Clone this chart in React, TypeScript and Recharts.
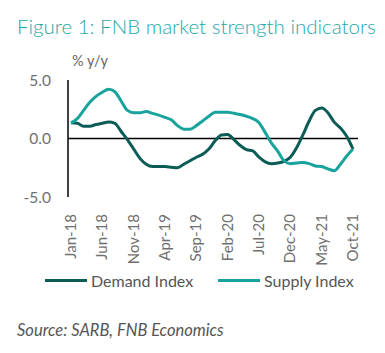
import { LineChart, Line, XAxis, YAxis, ReferenceLine } from 'recharts';

const months = [
  'Jan-18', 'Feb-18', 'Mar-18', 'Apr-18', 'May-18', 'Jun-18', 'Jul-18', 'Aug-18', 'Sep-18', 'Oct-18', 'Nov-18', 'Dec-18',
  'Jan-19', 'Feb-19', 'Mar-19', 'Apr-19', 'May-19', 'Jun-19', 'Jul-19', 'Aug-19', 'Sep-19', 'Oct-19', 'Nov-19', 'Dec-19',
  'Jan-20', 'Feb-20', 'Mar-20', 'Apr-20', 'May-20', 'Jun-20', 'Jul-20', 'Aug-20', 'Sep-20', 'Oct-20', 'Nov-20', 'Dec-20',
  'Jan-21', 'Feb-21', 'Mar-21', 'Apr-21', 'May-21', 'Jun-21', 'Jul-21', 'Aug-21', 'Sep-21', 'Oct-21',
];

const demandIndex = [
  1.34, 1.3, 1.05, 1.05, 1.2, 1.3, 1.4, 1.3, 0.6, -0.1, -0.9, -1.7,
  -2.2, -2.4, -2.4, -2.4, -2.45, -2.5, -2.2, -1.9, -1.6, -1.35, -0.9, -0.2,
  0.3, 0.35, -0.1, -0.6, -0.95, -1.05, -1.6, -2.0, -2.15, -2.1, -1.95, -1.6,
  -0.8, 0.3, 1.5, 2.4, 2.6, 2.2, 1.4, 0.9, 0.2, -0.9,
];

const supplyIndex = [
  1.34, 1.7, 2.4, 3.1, 3.6, 3.95, 4.2, 4.0, 3.2, 2.4, 2.2, 2.2,
  2.3, 2.15, 2.0, 1.8, 1.6, 1.1, 0.8, 0.8, 1.1, 1.5, 1.9, 2.25,
  2.25, 2.25, 2.15, 2.05, 1.9, 1.7, 1.35, 0.5, -0.4, -1.1, -1.9, -2.15,
  -2.1, -2.05, -2.15, -2.35, -2.4, -2.6, -2.75, -2.2, -1.5, -0.9,
];

const yTicks = [-5, 0, 5];

const DEMAND = '#0c5c56';
const SUPPLY = '#18a39c';
const FONT = 'Lato, "Open Sans", sans-serif';

const data = months.map((m, i) => ({ month: m, demand: demandIndex[i], supply: supplyIndex[i] }));

function XTick({ x, y, payload }: any) {
  return (
    <text
      x={x}
      y={y}
      transform={`rotate(-90 ${x} ${y})`}
      dx={-9}
      dy={5}
      textAnchor="end"
      fill="#707070"
      fontSize={15}
      fontFamily={FONT}
    >
      {payload.value}
    </text>
  );
}

export default function App() {
  return (
    <div style={{ position: 'absolute', left: 0, top: 0, width: 385, height: 353, background: '#fff', fontFamily: FONT }}>
      <div style={{ position: 'absolute', left: 17, top: 14, fontSize: 20.5, fontWeight: 300, color: '#1ea8aa', whiteSpace: 'nowrap' }}>
        Figure 1: FNB market strength indicators
      </div>
      <div style={{ position: 'absolute', left: 72, top: 52, fontSize: 14.5, color: '#666' }}>% y/y</div>

      <LineChart width={385} height={270} data={data} margin={{ top: 80, right: 27, left: 0, bottom: 0 }}>
        <XAxis
          dataKey="month"
          interval={4}
          height={73}
          axisLine={false}
          tickLine={false}
          tick={<XTick />}
          padding={{ left: 3, right: 5 }}
        />
        <YAxis
          domain={[-5, 5]}
          ticks={yTicks}
          width={68}
          tickFormatter={(v) => v.toFixed(1)}
          tick={{ fill: '#707070', fontSize: 15.5, fontFamily: FONT }}
          tickLine={false}
          tickSize={0}
          tickMargin={17}
          axisLine={{ stroke: '#000', strokeWidth: 1.5 }}
        />
        <ReferenceLine y={0} stroke="#000" strokeWidth={1.5} />
        <Line type="monotone" dataKey="demand" stroke={DEMAND} strokeWidth={3} dot={false} isAnimationActive={false} />
        <Line type="monotone" dataKey="supply" stroke={SUPPLY} strokeWidth={3} dot={false} isAnimationActive={false} />
      </LineChart>

      <div style={{ position: 'absolute', top: 271, left: 45, display: 'flex', alignItems: 'center', fontSize: 16, color: '#555', whiteSpace: 'nowrap' }}>
        <span style={{ display: 'inline-block', width: 42, height: 3, background: DEMAND, marginRight: 4 }} />
        <span style={{ width: 127 }}>Demand Index</span>
        <span style={{ display: 'inline-block', width: 42, height: 3, background: SUPPLY, marginRight: 4 }} />
        <span>Supply Index</span>
      </div>

      <div style={{ position: 'absolute', top: 320, left: 17, fontSize: 16.5, fontStyle: 'italic', color: '#555' }}>
        Source: SARB, FNB Economics
      </div>
    </div>
  );
}
